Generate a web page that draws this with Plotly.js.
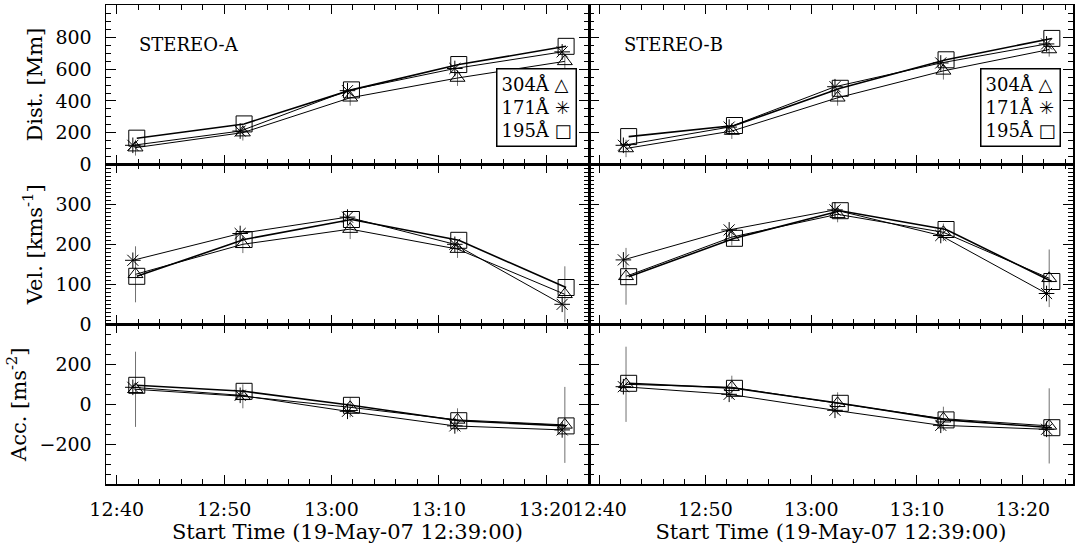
<!DOCTYPE html>
<html>
<head>
<meta charset="utf-8">
<script src="https://cdn.plot.ly/plotly-3.0.1.min.js"></script>
<style>html,body{margin:0;padding:0;background:#fff;}#plot{width:1076px;height:544px;}</style>
</head>
<body>
<div id="plot"></div>
<script>
// ---------- data ----------
const tA171 = ['2007-05-19 12:41:30','2007-05-19 12:51:30','2007-05-19 13:01:30','2007-05-19 13:11:30','2007-05-19 13:21:30'];
const tA304 = ['2007-05-19 12:41:45','2007-05-19 12:51:45','2007-05-19 13:01:45','2007-05-19 13:11:45','2007-05-19 13:21:45'];
const tA195 = ['2007-05-19 12:41:52','2007-05-19 12:51:52','2007-05-19 13:01:52','2007-05-19 13:11:52','2007-05-19 13:21:52'];
const tB171 = ['2007-05-19 12:42:15','2007-05-19 12:52:15','2007-05-19 13:02:15','2007-05-19 13:12:15','2007-05-19 13:22:15'];
const tB304 = ['2007-05-19 12:42:30','2007-05-19 12:52:30','2007-05-19 13:02:30','2007-05-19 13:12:30','2007-05-19 13:22:30'];
const tB195 = ['2007-05-19 12:42:45','2007-05-19 12:52:45','2007-05-19 13:02:45','2007-05-19 13:12:45','2007-05-19 13:22:45'];

// STEREO-A
const distA171 = [120, 210, 465, 605, 710];
const distA304 = [105, 200, 420, 545, 650];
const distA195 = [165, 255, 470, 630, 745];
const velA171  = [160, 227, 268, 200, 50];
const velA304  = [125, 200, 238, 188, 75];
const velA195  = [120, 212, 262, 210, 92];
const accA171  = [85, 45, -35, -108, -128];
const accA304  = [75, 40, -15, -78, -103];
const accA195  = [95, 65, -5, -82, -108];
const errDistA304 = [50, 50, 50, 50, 45];
const errVelA304  = [70, 22, 25, 22, 70];
const errAccA304  = [188, 60, 50, 58, 190];

// STEREO-B
const distB171 = [120, 235, 490, 640, 760];
const distB304 = [100, 210, 420, 590, 725];
const distB195 = [175, 245, 480, 660, 795];
const velB171  = [161, 236, 286, 222, 77];
const velB304  = [120, 218, 275, 230, 115];
const velB195  = [119, 215, 284, 237, 107];
const accB171  = [88, 50, -30, -105, -125];
const accB304  = [100, 85, 5, -72, -108];
const accB195  = [105, 80, 5, -78, -117];
const errDistB304 = [55, 50, 50, 55, 45];
const errVelB304  = [71, 21, 20, 22, 72];
const errAccB304  = [188, 58, 55, 60, 188];

const distTicks = [0, 200, 400, 600, 800];
const velTicks  = [0, 100, 200, 300];
const accTicks  = [-200, 0, 200];
const legendText = ['304Å △', '171Å ✳', '195Å □'];

// ---------- styling ----------
const FONT = 'DejaVu Serif';
const W = 1076, H = 544;
const fx = p => p / W;
const fy = p => 1 - p / H;

function series(x, y, ax, kind, err) {
  const mk = {
    '304': {symbol: 'triangle-up-open', size: 13},
    '171': {symbol: 'asterisk-open', size: 13},
    '195': {symbol: 'square-open', size: 16}
  }[kind];
  const t = {
    type: 'scatter', mode: 'lines+markers', x: x, y: y,
    xaxis: 'x' + ax, yaxis: 'y' + ax,
    line: {color: 'black', width: kind === '195' ? 1.6 : 1},
    marker: {symbol: mk.symbol, size: mk.size, color: 'black', line: {color: 'black', width: 1}},
    showlegend: false, hoverinfo: 'skip'
  };
  if (err) t.error_y = {type: 'data', array: err, visible: true, color: '#707070', thickness: 1, width: 0};
  return t;
}

const data = [
  series(tA304, distA304, '', '304', errDistA304),
  series(tA171, distA171, '', '171'),
  series(tA195, distA195, '', '195'),
  series(tB304, distB304, '2', '304', errDistB304),
  series(tB171, distB171, '2', '171'),
  series(tB195, distB195, '2', '195'),
  series(tA304, velA304, '3', '304', errVelA304),
  series(tA171, velA171, '3', '171'),
  series(tA195, velA195, '3', '195'),
  series(tB304, velB304, '4', '304', errVelB304),
  series(tB171, velB171, '4', '171'),
  series(tB195, velB195, '4', '195'),
  series(tA304, accA304, '5', '304', errAccA304),
  series(tA171, accA171, '5', '171'),
  series(tA195, accA195, '5', '195'),
  series(tB304, accB304, '6', '304', errAccB304),
  series(tB171, accB171, '6', '171'),
  series(tB195, accB195, '6', '195')
];

const colL = [fx(106), fx(589)];
const colR = [fx(589), fx(1073)];
const row1 = [fy(164.3), fy(5)];
const row2 = [fy(324.3), fy(164.3)];
const row3 = [fy(484.3), fy(324.3)];

const tickFont = {family: FONT, size: 19, color: 'black'};
const titleFont = {family: FONT, size: 21, color: 'black'};

function xax(domain, anchor, range, labels) {
  const a = {
    type: 'date', domain: domain, anchor: anchor, range: range,
    tick0: '2007-05-19 12:40:00', dtick: 600000, tickformat: '%H:%M',
    ticks: 'inside', ticklen: 9, tickwidth: 1, tickcolor: 'black',
    minor: {ticks: 'inside', ticklen: 5, tickwidth: 1, tickcolor: 'black', dtick: 120000, tick0: '2007-05-19 12:40:00', showgrid: false},
    showline: true, linecolor: 'black', linewidth: 1.5, mirror: 'ticks',
    showgrid: false, zeroline: false,
    showticklabels: labels, tickfont: tickFont, ticklabelstandoff: 7
  };
  if (labels) a.title = {text: 'Start Time (19-May-07 12:39:00)', font: titleFont, standoff: 2};
  return a;
}
function yax(domain, anchor, range, tickvals, minorD, labels, title) {
  const a = {
    domain: domain, anchor: anchor, range: range,
    tickmode: 'array', tickvals: tickvals, ticktext: tickvals.map(v => v < 0 ? '\u2212' + Math.abs(v) : String(v)),
    ticks: 'inside', ticklen: 10, tickwidth: 1, tickcolor: 'black',
    minor: {ticks: 'inside', ticklen: 5, tickwidth: 1, tickcolor: 'black', tickmode: 'linear', tick0: 0, dtick: minorD, showgrid: false},
    showline: true, linecolor: 'black', linewidth: 1.5, mirror: 'ticks',
    showgrid: false, zeroline: false,
    showticklabels: labels, tickfont: tickFont, ticklabelstandoff: 9
  };
  if (title) a.title = {text: title, font: titleFont, standoff: 7};
  return a;
}

const rangeA = ['2007-05-19 12:39:00', '2007-05-19 13:24:00'];
const rangeB = ['2007-05-19 12:39:00', '2007-05-19 13:24:45'];

const legendHTML = legendText.join('<br>');
const annFont = {family: FONT, size: 18, color: 'black'};

const layout = {
  width: W, height: H,
  margin: {l: 0, r: 0, t: 0, b: 0},
  paper_bgcolor: 'white', plot_bgcolor: 'white',
  showlegend: false,
  font: {family: FONT, size: 18, color: 'black'},
  xaxis:  xax(colL, 'y',  rangeA, false),
  xaxis2: xax(colR, 'y2', rangeB, false),
  xaxis3: xax(colL, 'y3', rangeA, false),
  xaxis4: xax(colR, 'y4', rangeB, false),
  xaxis5: xax(colL, 'y5', rangeA, true),
  xaxis6: xax(colR, 'y6', rangeB, true),
  yaxis:  yax(row1, 'x',  [0, 1006], distTicks, 50, true, 'Dist. [Mm]'),
  yaxis2: yax(row1, 'x2', [0, 1006], distTicks, 50, false, null),
  yaxis3: yax(row2, 'x3', [0, 400], velTicks, 10, true, 'Vel. [kms<sup>-1</sup>]'),
  yaxis4: yax(row2, 'x4', [0, 400], velTicks, 10, false, null),
  yaxis5: yax(row3, 'x5', [-400, 400], accTicks, 50, true, 'Acc. [ms<sup>-2</sup>]'),
  yaxis6: yax(row3, 'x6', [-400, 400], accTicks, 50, false, null),
  annotations: [
    {xref: 'paper', yref: 'paper', x: fx(137), y: fy(44), xanchor: 'left', yanchor: 'middle',
     text: 'STEREO-A', showarrow: false, font: annFont},
    {xref: 'paper', yref: 'paper', x: fx(622), y: fy(44), xanchor: 'left', yanchor: 'middle',
     text: 'STEREO-B', showarrow: false, font: annFont},
    {xref: 'paper', yref: 'paper', x: fx(577), y: fy(68), xanchor: 'right', yanchor: 'top',
     text: legendHTML, align: 'left', showarrow: false, bgcolor: 'white',
     bordercolor: 'black', borderwidth: 1.5, borderpad: 4,
     font: annFont},
    {xref: 'paper', yref: 'paper', x: fx(1061), y: fy(68), xanchor: 'right', yanchor: 'top',
     text: legendHTML, align: 'left', showarrow: false, bgcolor: 'white',
     bordercolor: 'black', borderwidth: 1.5, borderpad: 4,
     font: annFont}
  ]
};

Plotly.newPlot('plot', data, layout, {staticPlot: true, displayModeBar: false});
</script>
</body>
</html>
